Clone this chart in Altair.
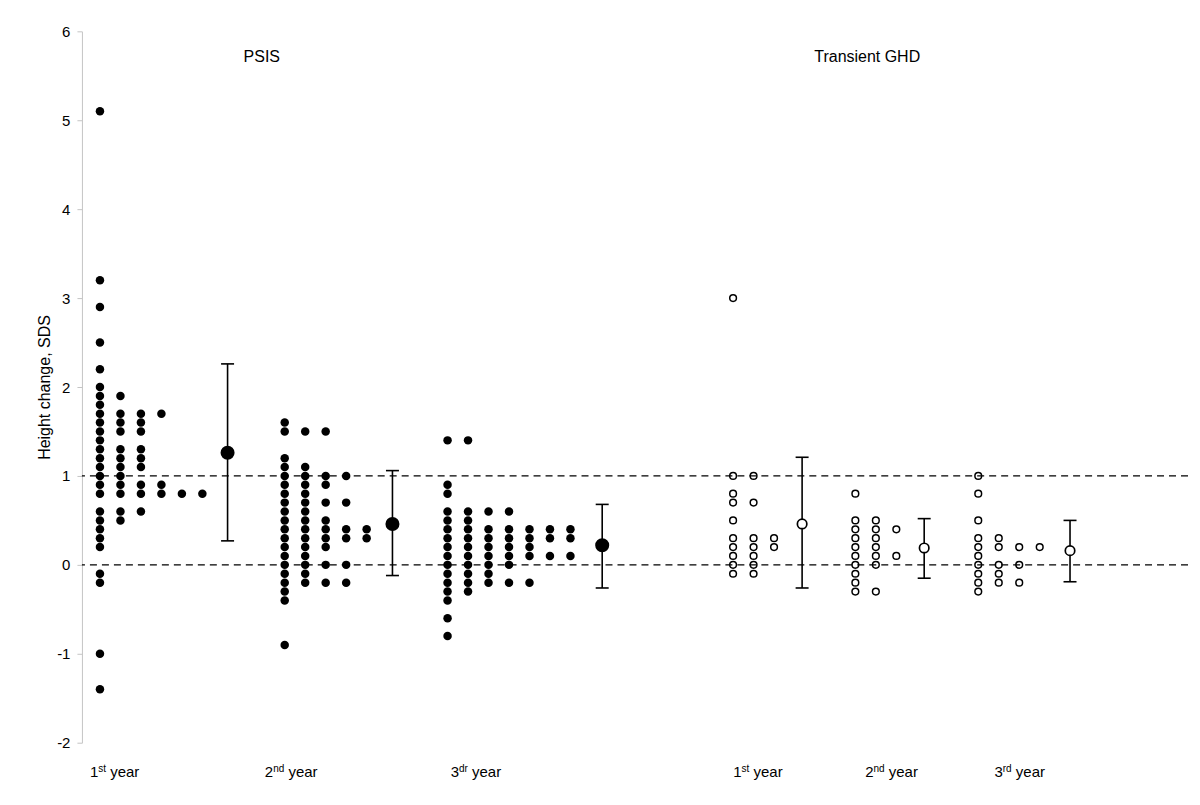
import altair as alt
import pandas as pd

# ---------------- data ----------------
group_names = ["PSIS 1st year", "PSIS 2nd year", "PSIS 3rd year",
               "Transient 1st year", "Transient 2nd year", "Transient 3rd year"]
group_study = ["PSIS", "PSIS", "PSIS", "Transient GHD", "Transient GHD", "Transient GHD"]

psis_y1 = [
    [5.1, 3.2, 2.9, 2.5, 2.2, 2.0, 1.9, 1.8, 1.7, 1.6, 1.5, 1.4, 1.3, 1.2, 1.1, 1.0, 0.9, 0.8,
     0.6, 0.5, 0.4, 0.3, 0.2, -0.1, -0.2, -1.0, -1.4],
    [1.9, 1.7, 1.6, 1.5, 1.3, 1.2, 1.1, 1.0, 0.9, 0.8, 0.6, 0.5],
    [1.7, 1.6, 1.5, 1.3, 1.2, 1.1, 0.9, 0.8, 0.6],
    [1.7, 0.9, 0.8],
    [0.8],
    [0.8],
]
psis_y2 = [
    [1.6, 1.5, 1.2, 1.1, 1.0, 0.9, 0.8, 0.7, 0.6, 0.5, 0.4, 0.3, 0.2, 0.1, 0.0, -0.1, -0.2, -0.3, -0.4, -0.9],
    [1.5, 1.1, 1.0, 0.9, 0.8, 0.7, 0.6, 0.5, 0.4, 0.3, 0.2, 0.1, 0.0, -0.1, -0.2],
    [1.5, 1.0, 0.9, 0.7, 0.5, 0.4, 0.3, 0.2, 0.0, -0.2],
    [1.0, 0.7, 0.4, 0.3, 0.0, -0.2],
    [0.4, 0.3],
]
psis_y3 = [
    [1.4, 0.9, 0.8, 0.6, 0.5, 0.4, 0.3, 0.2, 0.1, 0.0, -0.1, -0.2, -0.3, -0.4, -0.6, -0.8],
    [1.4, 0.6, 0.5, 0.4, 0.3, 0.2, 0.1, 0.0, -0.1, -0.2, -0.3],
    [0.6, 0.4, 0.3, 0.2, 0.1, 0.0, -0.1, -0.2],
    [0.6, 0.4, 0.3, 0.2, 0.1, 0.0, -0.2],
    [0.4, 0.3, 0.2, 0.1, -0.2],
    [0.4, 0.3, 0.1],
    [0.4, 0.3, 0.1],
]
trans_y1 = [
    [3.0, 1.0, 0.8, 0.7, 0.5, 0.3, 0.2, 0.1, 0.0, -0.1],
    [1.0, 0.7, 0.3, 0.2, 0.1, 0.0, -0.1],
    [0.3, 0.2],
]
trans_y2 = [
    [0.8, 0.5, 0.4, 0.3, 0.2, 0.1, 0.0, -0.1, -0.2, -0.3],
    [0.5, 0.4, 0.3, 0.2, 0.1, 0.0, -0.3],
    [0.4, 0.1],
]
trans_y3 = [
    [1.0, 0.8, 0.5, 0.3, 0.2, 0.1, 0.0, -0.1, -0.2, -0.3],
    [0.3, 0.2, 0.0, -0.1, -0.2],
    [0.2, 0.0, -0.2],
    [0.2],
]
group_columns = [psis_y1, psis_y2, psis_y3, trans_y1, trans_y2, trans_y3]

# position of first dot column of each group and of the mean/error bar (x units = column steps)
group_first_col = [0.88, 9.90, 17.85, 31.79, 37.76, 43.76]
group_mean_pos = [7.11, 15.16, 25.40, 35.16, 41.12, 48.24]
group_mean = [1.26, 0.46, 0.22, 0.46, 0.19, 0.16]
group_err_low = [0.27, -0.12, -0.26, -0.26, -0.15, -0.19]
group_err_high = [2.26, 1.06, 0.68, 1.21, 0.52, 0.50]

ref_lines = [0, 1]
y_ticks = [-2, -1, 0, 1, 2, 3, 4, 5, 6]

study_titles = ["PSIS", "Transient GHD"]
study_title_x = [8.78, 38.34]
study_title_y = [5.71, 5.71]

label_num = ["1", "2", "3", "1", "2", "3"]
label_sup = ["st", "nd", "dr", "st", "nd", "rd"]
label_word = ["year"] * 6
label_start = [0.39, 8.93, 18.0, 31.8, 38.24, 44.55]

# ---------------- layout / style ----------------
W, H = 1107, 712
X_MAX = 54.0
PPU = W / X_MAX          # pixels per x unit
COL_STEP = 1.0
CAP_HALF = 6.5 / PPU
FONT = "Liberation Sans"
MAIN_FS, SUP_FS = 15, 10
EM = {"0": .556, "1": .556, "2": .556, "3": .556, "s": .5, "t": .278, "n": .556,
      "d": .556, "r": .333}

# ---------------- tables ----------------
dot_rows = []
for g, cols in enumerate(group_columns):
    for c, vals in enumerate(cols):
        for v in vals:
            dot_rows.append({"group": group_names[g], "study": group_study[g],
                             "x": group_first_col[g] + c * COL_STEP, "y": v})
dots = pd.DataFrame(dot_rows)

means = pd.DataFrame({"group": group_names, "study": group_study, "x": group_mean_pos,
                      "mean": group_mean, "lo": group_err_low, "hi": group_err_high})
means["xl"] = means["x"] - CAP_HALF
means["xr"] = means["x"] + CAP_HALF
caps = pd.concat([means.assign(yc=means["lo"]), means.assign(yc=means["hi"])])

main_rows, sup_rows = [], []
for i in range(len(label_num)):
    x0 = label_start[i]
    main_rows.append({"x": x0, "t": label_num[i]})
    xs = x0 + sum(EM[ch] for ch in label_num[i]) * MAIN_FS / PPU
    sup_rows.append({"x": xs, "t": label_sup[i]})
    xw = xs + (sum(EM[ch] for ch in label_sup[i]) * SUP_FS + 0.278 * MAIN_FS) / PPU
    main_rows.append({"x": xw, "t": label_word[i]})
lab_main = pd.DataFrame(main_rows)
lab_sup = pd.DataFrame(sup_rows)

titles = pd.DataFrame({"x": study_title_x, "y": study_title_y, "t": study_titles})

# ---------------- scales ----------------
xs_ = alt.Scale(domain=[0, X_MAX], nice=False, zero=False)
ys_ = alt.Scale(domain=[-2, 6], nice=False, zero=False)

yaxis = alt.Axis(values=y_ticks, grid=False, tickSize=5, domainColor="#c4c4c4",
                 tickColor="#c4c4c4", labelFont=FONT, labelFontSize=15, labelColor="black",
                 labelPadding=7, labelExpr="toString(datum.value)",
                 title="Height change, SDS", titleFont=FONT, titleFontSize=16,
                 titleFontWeight="normal", titleColor="black", titlePadding=4)

rules = alt.Chart(pd.DataFrame({"y": ref_lines})).mark_rule(
    color="black", strokeDash=[7, 5], strokeWidth=1.3
).encode(y=alt.Y("y:Q", scale=ys_, axis=yaxis))

psis_dots = alt.Chart(dots[dots.study == "PSIS"]).mark_circle(
    size=72, color="black", opacity=1
).encode(x=alt.X("x:Q", scale=xs_, axis=None), y=alt.Y("y:Q", scale=ys_))

trans_dots = alt.Chart(dots[dots.study != "PSIS"]).mark_point(
    shape="circle", size=45, filled=False, stroke="black", strokeWidth=1.5, opacity=1
).encode(x=alt.X("x:Q", scale=xs_, axis=None), y=alt.Y("y:Q", scale=ys_))

err_v = alt.Chart(means).mark_rule(color="black", strokeWidth=1.6).encode(
    x=alt.X("x:Q", scale=xs_, axis=None), y=alt.Y("lo:Q", scale=ys_), y2="hi:Q")

err_caps = alt.Chart(caps).mark_rule(color="black", strokeWidth=1.6).encode(
    x=alt.X("xl:Q", scale=xs_, axis=None), x2="xr:Q", y=alt.Y("yc:Q", scale=ys_))

mean_psis = alt.Chart(means[means.study == "PSIS"]).mark_point(
    shape="circle", size=145, filled=True, fill="black", stroke="black", opacity=1
).encode(x=alt.X("x:Q", scale=xs_, axis=None), y=alt.Y("mean:Q", scale=ys_))

mean_trans = alt.Chart(means[means.study != "PSIS"]).mark_point(
    shape="circle", size=90, filled=True, fill="white", stroke="black", strokeWidth=1.7,
    opacity=1
).encode(x=alt.X("x:Q", scale=xs_, axis=None), y=alt.Y("mean:Q", scale=ys_))

title_text = alt.Chart(titles).mark_text(
    font=FONT, fontSize=16, color="black", align="center", baseline="middle"
).encode(x=alt.X("x:Q", scale=xs_, axis=None), y=alt.Y("y:Q", scale=ys_), text="t:N")

lab_main_text = alt.Chart(lab_main).mark_text(
    font=FONT, fontSize=MAIN_FS, color="black", align="left", baseline="alphabetic"
).encode(x=alt.X("x:Q", scale=xs_, axis=None), y=alt.value(H + 34), text="t:N")

lab_sup_text = alt.Chart(lab_sup).mark_text(
    font=FONT, fontSize=SUP_FS, color="black", align="left", baseline="alphabetic"
).encode(x=alt.X("x:Q", scale=xs_, axis=None), y=alt.value(H + 29), text="t:N")

chart = alt.layer(
    rules, psis_dots, trans_dots, err_v, err_caps, mean_psis, mean_trans,
    title_text, lab_main_text, lab_sup_text
).properties(
    width=W, height=H,
    autosize=alt.AutoSizeParams(type="none"),
    padding={"left": 74, "top": 23, "right": 4, "bottom": 60},
    background="white",
).configure_view(stroke=None)

chart.save("out.html", embed_options={"renderer": "svg", "actions": False})
